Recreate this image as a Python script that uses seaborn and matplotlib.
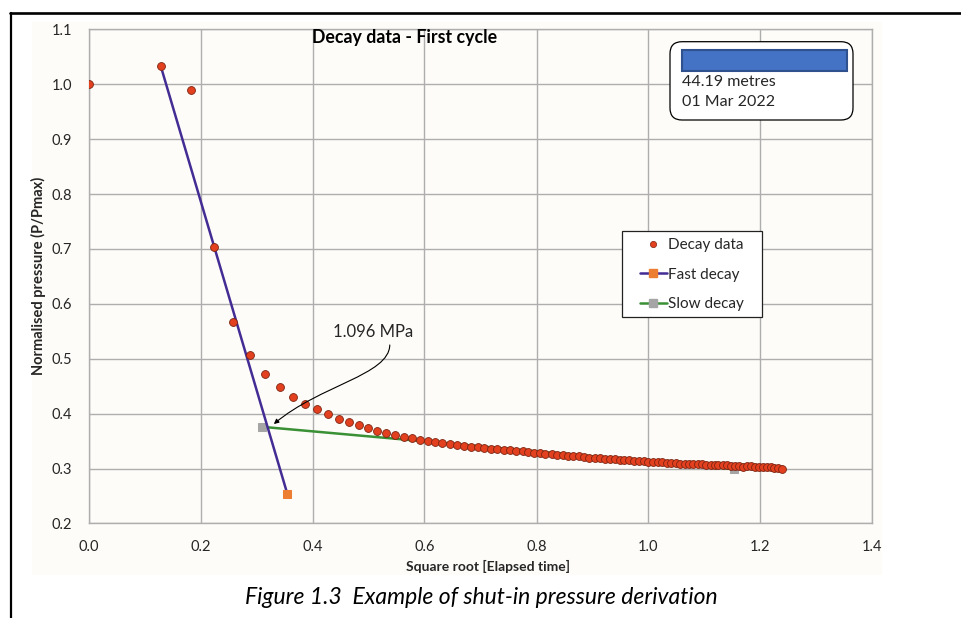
"""Decay data - first cycle: shut-in pressure derivation plot."""
import matplotlib
matplotlib.use("Agg")
import matplotlib.pyplot as plt
import seaborn as sns
from matplotlib.lines import Line2D
from matplotlib.patches import FancyBboxPatch, Rectangle, FancyArrowPatch
from matplotlib.path import Path
from matplotlib.transforms import IdentityTransform

# --- data ------------------------------------------------------------------
decay_x = [0.000, 0.129, 0.183, 0.224, 0.258, 0.289, 0.316, 0.342, 0.365, 0.387,
           0.408, 0.428, 0.447, 0.466, 0.483, 0.500, 0.516, 0.532, 0.548, 0.563,
           0.577, 0.592, 0.606, 0.619, 0.632, 0.646, 0.658, 0.671, 0.683, 0.695,
           0.707, 0.719, 0.730, 0.742, 0.753, 0.764, 0.775, 0.785, 0.796, 0.806,
           0.816, 0.827, 0.837, 0.847, 0.856, 0.866, 0.876, 0.885, 0.894, 0.904,
           0.913, 0.922, 0.931, 0.940, 0.949, 0.957, 0.966, 0.975, 0.983, 0.992,
           1.000, 1.008, 1.017, 1.025, 1.033, 1.041, 1.049, 1.057, 1.065, 1.072,
           1.080, 1.088, 1.095, 1.103, 1.111, 1.118, 1.125, 1.133, 1.140, 1.147,
           1.155, 1.162, 1.169, 1.176, 1.183, 1.190, 1.197, 1.204, 1.211, 1.218,
           1.225, 1.231, 1.238]
decay_y = [1.000, 1.033, 0.989, 0.703, 0.566, 0.506, 0.472, 0.449, 0.431, 0.418,
           0.408, 0.399, 0.391, 0.384, 0.379, 0.374, 0.369, 0.365, 0.361, 0.358,
           0.355, 0.352, 0.350, 0.348, 0.346, 0.344, 0.343, 0.341, 0.340, 0.339,
           0.337, 0.336, 0.335, 0.334, 0.333, 0.332, 0.331, 0.330, 0.329, 0.328,
           0.327, 0.326, 0.325, 0.324, 0.323, 0.322, 0.322, 0.321, 0.320, 0.320,
           0.319, 0.318, 0.317, 0.317, 0.316, 0.315, 0.315, 0.314, 0.313, 0.313,
           0.312, 0.312, 0.311, 0.311, 0.310, 0.310, 0.310, 0.309, 0.309, 0.309,
           0.308, 0.308, 0.308, 0.307, 0.307, 0.307, 0.306, 0.306, 0.306, 0.305,
           0.305, 0.305, 0.302, 0.304, 0.304, 0.303, 0.303, 0.303, 0.302, 0.302,
           0.301, 0.301, 0.300]

fast_x = [0.129, 0.355]
fast_y = [1.033, 0.254]
slow_x = [0.309, 1.153]
slow_y = [0.376, 0.299]

x_ticks = [0.0, 0.2, 0.4, 0.6, 0.8, 1.0, 1.2, 1.4]
y_ticks = [0.2, 0.3, 0.4, 0.5, 0.6, 0.7, 0.8, 0.9, 1.0, 1.1]

W, H = 962, 618
BG = "#fdfcf8"
GRID = "#aeaeae"
TXT = "#262626"
RED, RED_EDGE = "#e2401e", "#7d2412"
PURPLE, ORANGE = "#432c94", "#ed7d31"
GREEN, GREY = "#3a9035", "#a5a5a5"


def px(x, y):
    """pixel position measured from the top-left corner -> display coords"""
    return x, H - y


def main() -> None:
    sns.set_theme(style="whitegrid")
    plt.rcParams["font.family"] = ["Lato", "DejaVu Sans"]

    fig = plt.figure(figsize=(W / 100, H / 100), dpi=100)
    ax = fig.add_axes([88.5 / W, 1 - 523.4 / H, 784 / W, 494.1 / H])

    # chart area background
    fig.add_artist(Rectangle((32 / W, 1 - 575 / H), 850 / W, 553 / H,
                             transform=fig.transFigure, facecolor=BG,
                             edgecolor="none", zorder=-2))
    # black page frame (top and left)
    fig.add_artist(Line2D([10, W], [H - 13.3, H - 13.3], transform=IdentityTransform(),
                          color="black", lw=1.9))
    fig.add_artist(Line2D([10.7, 10.7], [0, H - 13.3], transform=IdentityTransform(),
                          color="black", lw=1.6))

    ax.set_facecolor(BG)

    # start marker of the fast line sits under a data point, only the end one shows
    sns.lineplot(x=fast_x, y=fast_y, ax=ax, sort=False, color=PURPLE, lw=1.8,
                 marker="s", markersize=6, markerfacecolor=ORANGE,
                 markeredgecolor=ORANGE, markevery=[1], zorder=3)
    sns.lineplot(x=slow_x, y=slow_y, ax=ax, sort=False, color=GREEN, lw=1.8,
                 marker="s", markersize=6, markerfacecolor=GREY,
                 markeredgecolor=GREY, zorder=2)
    sns.scatterplot(x=decay_x, y=decay_y, ax=ax, s=32, color=RED,
                    edgecolor=RED_EDGE, linewidth=0.6, zorder=5)

    ax.set_xlim(0, 1.4)
    ax.set_ylim(0.2, 1.1)
    ax.set_xticks(x_ticks)
    ax.set_yticks(y_ticks)
    ax.set_xticklabels([f"{v:.1f}" for v in x_ticks])
    ax.set_yticklabels([f"{v:.1f}" for v in y_ticks])
    ax.grid(True, color=GRID, lw=1.0)
    for s in ax.spines.values():
        s.set_color(GRID)
        s.set_linewidth(1.0)
    ax.tick_params(axis="both", direction="out", length=4, width=1.0, color=GRID,
                   labelsize=10.5, labelcolor=TXT)
    ax.tick_params(axis="y", pad=8)
    ax.tick_params(axis="x", pad=8)

    ax.set_xlabel("Square root [Elapsed time]", fontsize=10, fontweight="bold", color=TXT)
    ax.set_ylabel("Normalised pressure (P/Pmax)", fontsize=10.5, fontweight="bold", color=TXT)
    ax.xaxis.set_label_coords((488 - 88.5) / 784, -(560 - 523.4) / 494.1)
    ax.yaxis.set_label_coords((46 - 88.5) / 784, 0.5)

    ax.text((405 - 88.5) / 784, (523.4 - 37) / 494.1, "Decay data - First cycle",
            transform=ax.transAxes, ha="center", va="center", fontsize=12.8,
            fontweight="bold", color="black")

    # annotation with curved arrow
    ax.text(0.509, 0.548, "1.096 MPa", ha="center", va="center", fontsize=12, color=TXT)
    verts = [(0.538, 0.525), (0.537, 0.470), (0.413, 0.452), (0.331, 0.381)]
    codes = [Path.MOVETO, Path.CURVE4, Path.CURVE4, Path.CURVE4]
    ax.add_patch(FancyArrowPatch(path=Path(verts, codes), arrowstyle="-|>",
                                 mutation_scale=7, color="black", lw=0.8, zorder=6))

    # legend: frame drawn separately so the padding matches the original
    fig.add_artist(Rectangle(px(621.7, 317.3), 140, 86.6, transform=IdentityTransform(),
                             facecolor="white", edgecolor="#222222", lw=0.9, zorder=6))
    handles = [
        Line2D([], [], ls="none", marker="o", markersize=4.5, markerfacecolor=RED,
               markeredgecolor=RED_EDGE, markeredgewidth=0.5),
        Line2D([], [], color=PURPLE, lw=1.8, marker="s", markersize=5.5,
               markerfacecolor=ORANGE, markeredgecolor=ORANGE),
        Line2D([], [], color=GREEN, lw=1.8, marker="s", markersize=5.5,
               markerfacecolor=GREY, markeredgecolor=GREY),
    ]
    leg = fig.legend(handles, ["Decay data", "Fast decay", "Slow decay"],
                     loc="upper left", bbox_to_anchor=px(640, 238.5),
                     bbox_transform=IdentityTransform(),
                     borderaxespad=0, borderpad=0, frameon=False, fontsize=11,
                     handlelength=1.75, handletextpad=0.08, labelspacing=1.0)
    leg.set_zorder(7)
    for t in leg.get_texts():
        t.set_color(TXT)

    # info box, top right
    fig.add_artist(FancyBboxPatch(px(670, 120), 183, 78.3,
                                  boxstyle="round,pad=0,rounding_size=12",
                                  transform=IdentityTransform(), facecolor="white",
                                  edgecolor="black", lw=0.9, zorder=6))
    fig.add_artist(Rectangle(px(682, 70.5), 165, 21, transform=IdentityTransform(),
                             facecolor="#4472c4", edgecolor="#2f528f", lw=1.5, zorder=7))
    fig.text(682.5 / W, 1 - 81.7 / H, "44.19 metres", ha="left", va="center",
             fontsize=11.5, color=TXT, zorder=7)
    fig.text(682.5 / W, 1 - 101.7 / H, "01 Mar 2022", ha="left", va="center",
             fontsize=11.5, color=TXT, zorder=7)

    # caption
    fig.text(481 / W, 1 - 597 / H, "Figure 1.3  Example of shut-in pressure derivation",
             ha="center", va="center", fontsize=16.5, style="italic", color="black")

    fig.savefig("out.png", dpi=100)
    plt.close(fig)


if __name__ == "__main__":
    main()
